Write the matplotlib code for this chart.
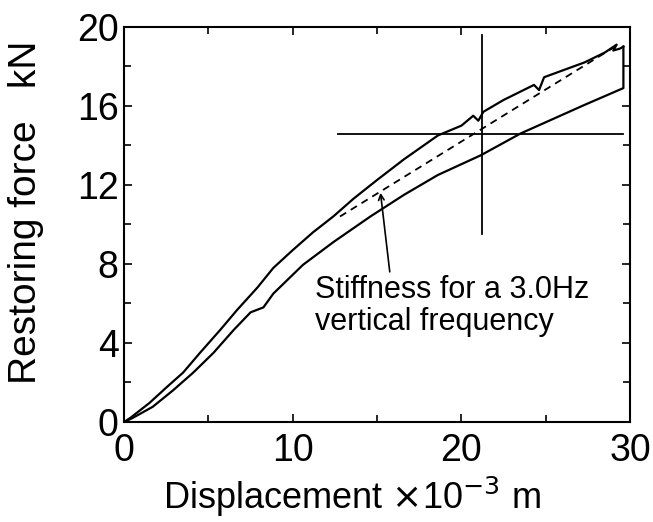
import matplotlib
matplotlib.use("Agg")
import matplotlib.pyplot as plt
from matplotlib.ticker import MultipleLocator

plt.rcParams['font.family'] = ['Liberation Sans', 'DejaVu Sans']

# loading branch (displacement x10^-3 m, force kN)
load_disp = [0.0, 0.36, 1.5, 2.55, 3.5, 4.5, 5.7, 6.7, 7.9, 8.85, 10.0, 11.2, 12.4,
             13.6, 15.0, 16.6, 18.6, 20.0, 20.7, 21.0, 21.3, 22.5, 24.3, 24.6, 24.9,
             27.3, 28.5, 29.2, 29.0, 29.4, 29.6]
load_force = [0.0, 0.2, 0.96, 1.78, 2.5, 3.5, 4.66, 5.67, 6.8, 7.8, 8.7, 9.6, 10.4,
              11.3, 12.25, 13.3, 14.5, 15.0, 15.5, 15.25, 15.7, 16.3, 17.06, 16.8, 17.45,
              18.2, 18.7, 19.1, 18.8, 18.9, 19.0]

# unloading branch
unload_disp = [29.6, 29.6, 27.3, 23.5, 21.15, 18.6, 16.6, 14.6, 12.4, 10.6, 8.85,
               8.26, 7.5, 6.5, 5.3, 4.1, 2.9, 1.7, 0.5, 0.0]
unload_force = [19.0, 16.9, 16.05, 14.6, 13.5, 12.5, 11.5, 10.4, 9.1, 7.95, 6.5,
                5.8, 5.55, 4.66, 3.5, 2.5, 1.6, 0.77, 0.2, 0.0]

# stiffness line for 3.0 Hz
stiff_disp = [12.8, 29.3]
stiff_force = [10.4, 19.1]

# crosshair
cross_x = 21.2
cross_y = 14.6
cross_x_span = [9.5, 19.6]
cross_y_span = [12.7, 29.6]

fig = plt.figure(figsize=(6.53, 5.22), dpi=100)
ax = fig.add_axes([0.19, 0.1916, 0.775, 0.757])

ax.plot(load_disp, load_force, color='black', lw=1.6)
ax.plot(unload_disp, unload_force, color='black', lw=1.6)
ax.plot(stiff_disp, stiff_force, color='black', lw=1.3, ls=(0, (4, 3)))
ax.plot([cross_x, cross_x], cross_x_span, color='black', lw=1.3)
ax.plot(cross_y_span, [cross_y, cross_y], color='black', lw=1.3)

# arrow + note
ax.annotate('', xy=(15.2, 11.6), xytext=(15.75, 7.6),
            arrowprops=dict(arrowstyle='->', color='black', lw=1.2, shrinkA=0, shrinkB=0))
ax.text(11.3, 7.45, 'Stiffness for a 3.0Hz\nvertical frequency', fontsize=22,
        ha='left', va='top', linespacing=1.1)

ax.set_xlim(0, 30)
ax.set_ylim(0, 20)
ax.xaxis.set_major_locator(MultipleLocator(10))
ax.xaxis.set_minor_locator(MultipleLocator(5))
ax.yaxis.set_major_locator(MultipleLocator(4))
ax.yaxis.set_minor_locator(MultipleLocator(2))
ax.tick_params(which='both', direction='in', top=True, right=True, width=1.2)
ax.tick_params(which='major', length=6, labelsize=27)
ax.tick_params(which='minor', length=5)
ax.tick_params(axis='x', which='major', pad=8)
ax.tick_params(axis='y', which='major', pad=4)
for s in ax.spines.values():
    s.set_linewidth(1.5)

ax.set_xlabel('Displacement $\\times$10$^{-3}$ m', fontsize=26)
ax.xaxis.set_label_coords(0.45, -0.133)
ax.set_ylabel('Restoring force   kN', fontsize=28)
ax.yaxis.set_label_coords(-0.158, 0.53)

fig.savefig('out.png', dpi=100)
